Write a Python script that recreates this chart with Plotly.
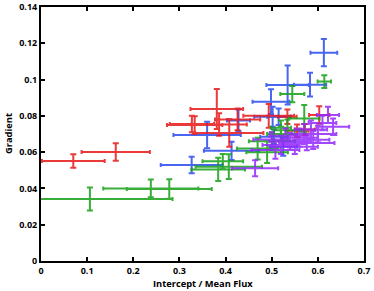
import plotly.graph_objects as go

# ---- data ----
red_x    = [0.070, 0.162, 0.381, 0.327, 0.333, 0.386, 0.408, 0.426, 0.4935, 0.534, 0.603, 0.555, 0.572]
red_y    = [0.0551, 0.0601, 0.0838, 0.0755, 0.0750, 0.0752, 0.0706, 0.0780, 0.0800, 0.0795, 0.0805, 0.0718, 0.0725]
red_xerr = [0.068, 0.074, 0.057, 0.048, 0.060, 0.060, 0.074, 0.049, 0.055, 0.020, 0.022, 0.025, 0.022]
red_yerr = [0.0037, 0.0048, 0.0110, 0.0045, 0.0048, 0.0062, 0.0076, 0.0060, 0.0065, 0.0040, 0.0048, 0.0035, 0.0030]

blue_x    = [0.613, 0.5345, 0.583, 0.4984, 0.360, 0.428, 0.502, 0.515, 0.3265, 0.413, 0.505, 0.525]
blue_y    = [0.1148, 0.0970, 0.0972, 0.0878, 0.0695, 0.0775, 0.0795, 0.0795, 0.0529, 0.0607, 0.0685, 0.0630]
blue_xerr = [0.029, 0.046, 0.035, 0.040, 0.073, 0.025, 0.040, 0.025, 0.067, 0.060, 0.030, 0.030]
blue_yerr = [0.0075, 0.0107, 0.0065, 0.0068, 0.0073, 0.0060, 0.0055, 0.0045, 0.0046, 0.0050, 0.0040, 0.0050]

green_x    = [0.106, 0.238, 0.278, 0.384, 0.407, 0.394, 0.4695, 0.490, 0.5005, 0.520, 0.534, 0.5705, 0.5446, 0.614, 0.520]
green_y    = [0.0342, 0.0400, 0.0397, 0.0505, 0.0520, 0.0550, 0.0620, 0.0600, 0.0660, 0.0700, 0.0720, 0.0785, 0.0920, 0.0989, 0.0735]
green_xerr = [0.179, 0.103, 0.092, 0.058, 0.072, 0.044, 0.045, 0.045, 0.050, 0.030, 0.030, 0.033, 0.026, 0.0145, 0.022]
green_yerr = [0.0063, 0.0049, 0.0054, 0.0064, 0.0068, 0.0040, 0.0060, 0.0060, 0.0050, 0.0040, 0.0060, 0.0075, 0.0045, 0.0035, 0.0040]

purple_x    = [0.464, 0.508, 0.576, 0.622, 0.633, 0.585, 0.600, 0.560, 0.540, 0.520, 0.610, 0.550, 0.590, 0.570, 0.530, 0.500]
purple_y    = [0.0511, 0.0612, 0.0650, 0.0805, 0.0740, 0.0725, 0.0700, 0.0680, 0.0660, 0.0640, 0.0760, 0.0630, 0.0668, 0.0700, 0.0690, 0.0670]
purple_xerr = [0.050, 0.052, 0.060, 0.024, 0.035, 0.035, 0.040, 0.040, 0.045, 0.040, 0.030, 0.050, 0.035, 0.030, 0.035, 0.040]
purple_yerr = [0.0044, 0.0048, 0.0040, 0.0045, 0.0045, 0.0050, 0.0045, 0.0050, 0.0045, 0.0050, 0.0040, 0.0040, 0.0050, 0.0055, 0.0040, 0.0040]

x_ticks = [0, 0.1, 0.2, 0.3, 0.4, 0.5, 0.6, 0.7]
y_ticks = [0, 0.02, 0.04, 0.06, 0.08, 0.1, 0.12, 0.14]

x_title = "Intercept / Mean Flux"
y_title = "Gradient"

series = [
    ("blue", blue_x, blue_y, blue_xerr, blue_yerr, "#2a4cf0"),
    ("red", red_x, red_y, red_xerr, red_yerr, "#e81818"),
    ("green", green_x, green_y, green_xerr, green_yerr, "#16a016"),
    ("purple", purple_x, purple_y, purple_xerr, purple_yerr, "#9428ff"),
]

fig = go.Figure()
for name, xs, ys, xe, ye, col in series:
    fig.add_trace(go.Scatter(
        x=xs, y=ys, mode="markers", name=name,
        marker=dict(size=1, color=col),
        opacity=0.85,
        error_x=dict(type="data", array=xe, visible=True, color=col, thickness=2, width=2),
        error_y=dict(type="data", array=ye, visible=True, color=col, thickness=2, width=3),
        showlegend=False,
    ))

tick_font = dict(family="Open Sans", size=9, color="black", weight="bold")
title_font = dict(family="Open Sans", size=9.3, color="black", weight="bold")

axis_common = dict(
    showline=True, linecolor="black", linewidth=2, mirror="ticks",
    ticks="inside", ticklen=4, tickwidth=1.5, tickcolor="black",
    showgrid=False, zeroline=False, automargin=False,
    ticklabeloverflow="allow",
    tickfont=tick_font,
)

fig.update_xaxes(range=[0, 0.7], tickvals=x_ticks, ticktext=[str(v) for v in x_ticks],
                 **axis_common)
fig.update_yaxes(range=[0, 0.14], tickvals=y_ticks, ticktext=[str(v) for v in y_ticks],
                 **axis_common)

fig.add_annotation(text=x_title, xref="paper", yref="paper", x=0.5, y=0,
                   xanchor="center", yanchor="middle", yshift=-22.5,
                   showarrow=False, font=title_font)
fig.add_annotation(text=y_title, xref="paper", yref="paper", x=0, y=0.5,
                   xanchor="center", yanchor="middle", xshift=-33, textangle=-90,
                   showarrow=False, font=title_font)

fig.update_layout(
    width=374, height=291,
    margin=dict(l=41, r=10, t=7, b=30),
    paper_bgcolor="white", plot_bgcolor="white",
)

fig.write_html("out.html", config={"displayModeBar": False},
               post_script="document.body.style.margin='0';")
